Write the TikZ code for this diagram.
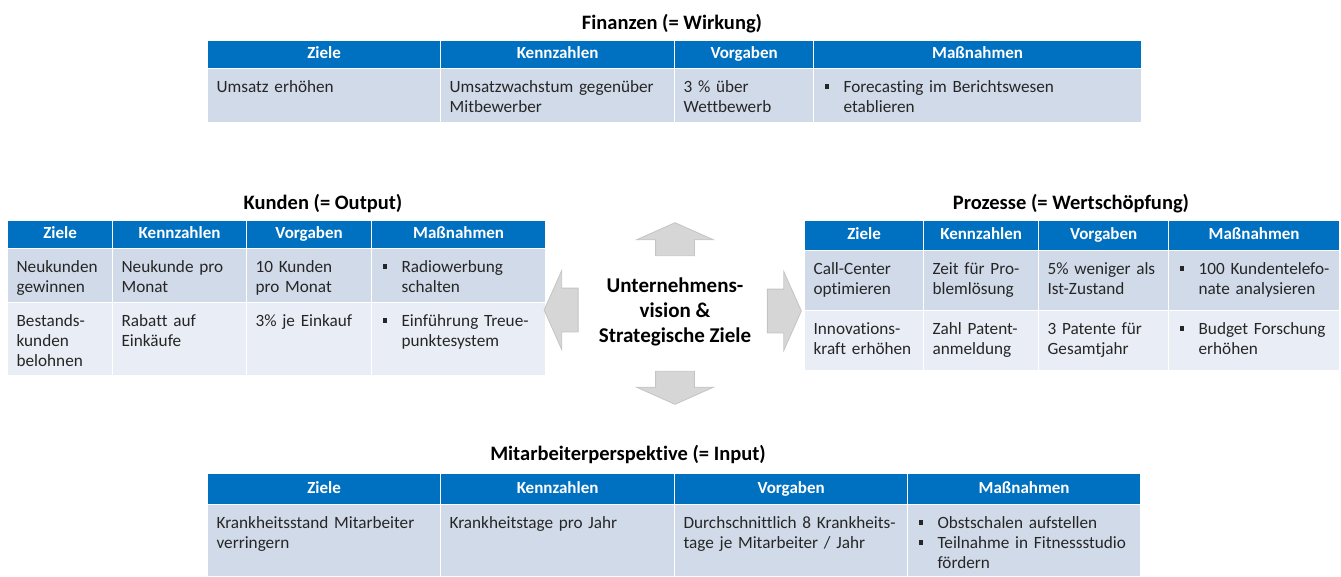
\documentclass[tikz,border=0pt]{standalone}
\usepackage{fontspec}
\setmainfont{Carlito}[Ligatures=NoCommon]
\usetikzlibrary{shapes.arrows}

\definecolor{headblue}{HTML}{0070C0}
\definecolor{rowdark}{HTML}{D1DAE9}
\definecolor{rowlight}{HTML}{E9EDF5}
\definecolor{bodytext}{HTML}{262626}
\definecolor{arrowfill}{HTML}{D6D6D6}
\definecolor{arrowline}{HTML}{C4C4C4}

\newcommand{\bul}{\makebox[21pt][l]{\hspace{2pt}\rule[4pt]{4.5pt}{4.5pt}}}
\newcommand{\bitem}[1]{\bul\begin{tabular}[t]{@{}l@{}}#1\end{tabular}}

\begin{document}
\begin{tikzpicture}[x=1pt, y=-1pt,
    headStyle/.style={anchor=north west, rectangle, fill=headblue, draw=white, line width=1.2pt, inner sep=0pt, text height=12pt, text depth=3.5pt, text=white, font=\bfseries\fontsize{17}{20}\selectfont},
    cellStyle/.style={anchor=north west, rectangle, draw=white, line width=1.2pt, inner xsep=9pt, inner ysep=4pt, text height=20pt, align=left, text=bodytext, font=\fontsize{17.2}{20}\selectfont},
    darkRow/.style={cellStyle, fill=rowdark},
    lightRow/.style={cellStyle, fill=rowlight},
    titleStyle/.style={anchor=base, font=\bfseries\fontsize{20.5}{24}\selectfont},
    arrowStyle/.style={single arrow, fill=arrowfill, draw=arrowline, line width=0.8pt, inner xsep=0pt, single arrow head indent=0pt, single arrow tip angle=132}]
    \useasboundingbox (0,0) rectangle (1341,576);

    % Finanzen
    \node[titleStyle] (fin_title) at (672, 29) {Finanzen (= Wirkung)};
    \node[headStyle, minimum width=233pt, minimum height=28pt] (fin_h1) at (207, 40) {Ziele};
    \node[headStyle, minimum width=234pt, minimum height=28pt] (fin_h2) at (440, 40) {Kennzahlen};
    \node[headStyle, minimum width=139pt, minimum height=28pt] (fin_h3) at (674, 40) {Vorgaben};
    \node[headStyle, minimum width=328pt, minimum height=28pt] (fin_h4) at (813, 40) {Maßnahmen};
    \node[darkRow, text width=215pt, text depth=26pt] (fin_b1) at (207, 68) {Umsatz erhöhen};
    \node[darkRow, text width=216pt, text depth=26pt] (fin_b2) at (440, 68) {Umsatzwachstum gegenüber\\Mitbewerber};
    \node[darkRow, text width=121pt, text depth=26pt] (fin_b3) at (674, 68) {3 \% über\\Wettbewerb};
    \node[darkRow, text width=310pt, text depth=26pt] (fin_b4) at (813, 68) {\bitem{Forecasting im Berichtswesen\\etablieren}};

    % Kunden
    \node[titleStyle] (kun_title) at (323, 209) {Kunden (= Output)};
    \node[headStyle, minimum width=105pt, minimum height=28pt] (kun_h1) at (7, 220) {Ziele};
    \node[headStyle, minimum width=134pt, minimum height=28pt] (kun_h2) at (112, 220) {Kennzahlen};
    \node[headStyle, minimum width=125pt, minimum height=28pt] (kun_h3) at (246, 220) {Vorgaben};
    \node[headStyle, minimum width=174pt, minimum height=28pt] (kun_h4) at (371, 220) {Maßnahmen};
    \node[darkRow, text width=87pt, text depth=26pt] (kun_11) at (7, 248) {Neukunden\\gewinnen};
    \node[darkRow, text width=116pt, text depth=26pt] (kun_12) at (112, 248) {Neukunde pro\\Monat};
    \node[darkRow, text width=107pt, text depth=26pt] (kun_13) at (246, 248) {10 Kunden\\pro Monat};
    \node[darkRow, text width=156pt, text depth=26pt] (kun_14) at (371, 248) {\bitem{Radiowerbung\\schalten}};
    \node[lightRow, text width=87pt, text depth=45pt] (kun_21) at (7, 302) {Bestands-\\kunden\\belohnen};
    \node[lightRow, text width=116pt, text depth=45pt] (kun_22) at (112, 302) {Rabatt auf\\Einkäufe};
    \node[lightRow, text width=107pt, text depth=45pt] (kun_23) at (246, 302) {3\% je Einkauf};
    \node[lightRow, text width=156pt, text depth=45pt] (kun_24) at (371, 302) {\bitem{Einführung Treue-\\punktesystem}};

    % Prozesse
    \node[titleStyle] (pro_title) at (1071, 209) {Prozesse (= Wertschöpfung)};
    \node[headStyle, minimum width=119pt, minimum height=30pt] (pro_h1) at (804, 220) {Ziele};
    \node[headStyle, minimum width=115pt, minimum height=30pt] (pro_h2) at (923, 220) {Kennzahlen};
    \node[headStyle, minimum width=130pt, minimum height=30pt] (pro_h3) at (1038, 220) {Vorgaben};
    \node[headStyle, minimum width=171pt, minimum height=30pt] (pro_h4) at (1168, 220) {Maßnahmen};
    \node[darkRow, text width=101pt, text depth=32pt] (pro_11) at (804, 250) {Call-Center\\optimieren};
    \node[darkRow, text width=97pt, text depth=32pt] (pro_12) at (923, 250) {Zeit für Pro-\\blemlösung};
    \node[darkRow, text width=112pt, text depth=32pt] (pro_13) at (1038, 250) {5\% weniger als\\Ist-Zustand};
    \node[darkRow, text width=153pt, text depth=32pt] (pro_14) at (1168, 250) {\bitem{100 Kundentelefo-\\nate analysieren}};
    \node[lightRow, text width=101pt, text depth=32pt] (pro_21) at (804, 310) {Innovations-\\kraft erhöhen};
    \node[lightRow, text width=97pt, text depth=32pt] (pro_22) at (923, 310) {Zahl Patent-\\anmeldung};
    \node[lightRow, text width=112pt, text depth=32pt] (pro_23) at (1038, 310) {3 Patente für\\Gesamtjahr};
    \node[lightRow, text width=153pt, text depth=32pt] (pro_24) at (1168, 310) {\bitem{Budget Forschung\\erhöhen}};

    % Mitte
    \node[align=center, font=\bfseries\fontsize{21}{25}\selectfont] (vision) at (675, 312) {Unternehmens-\\vision \&\\Strategische Ziele};
    \node[arrowStyle, minimum height=33pt, inner ysep=19pt, single arrow head extend=19pt, rotate=90] (arr_up) at (675, 243.5) {};
    \node[arrowStyle, minimum height=33pt, inner ysep=19pt, single arrow head extend=19pt, rotate=-90] (arr_down) at (675, 383.5) {};
    \node[arrowStyle, minimum height=34pt, inner ysep=21.5pt, single arrow head extend=17.5pt, rotate=180] (arr_left) at (566, 310) {};
    \node[arrowStyle, minimum height=34pt, inner ysep=21.5pt, single arrow head extend=17.5pt] (arr_right) at (779.5, 311) {};

    % Mitarbeiter
    \node[titleStyle] (mit_title) at (628, 460) {Mitarbeiterperspektive (= Input)};
    \node[headStyle, minimum width=233pt, minimum height=31pt] (mit_h1) at (207, 473) {Ziele};
    \node[headStyle, minimum width=234pt, minimum height=31pt] (mit_h2) at (440, 473) {Kennzahlen};
    \node[headStyle, minimum width=233pt, minimum height=31pt] (mit_h3) at (674, 473) {Vorgaben};
    \node[headStyle, minimum width=233pt, minimum height=31pt] (mit_h4) at (907, 473) {Maßnahmen};
    \node[darkRow, text width=215pt, text depth=44pt] (mit_b1) at (207, 504) {Krankheitsstand Mitarbeiter\\verringern};
    \node[darkRow, text width=216pt, text depth=44pt] (mit_b2) at (440, 504) {Krankheitstage pro Jahr};
    \node[darkRow, text width=215pt, text depth=44pt] (mit_b3) at (674, 504) {Durchschnittlich 8 Krankheits-\\tage je Mitarbeiter / Jahr};
    \node[darkRow, text width=215pt, text depth=44pt] (mit_b4) at (907, 504) {\bitem{Obstschalen aufstellen}\\\bitem{Teilnahme in Fitnessstudio\\fördern}};
\end{tikzpicture}
\end{document}
